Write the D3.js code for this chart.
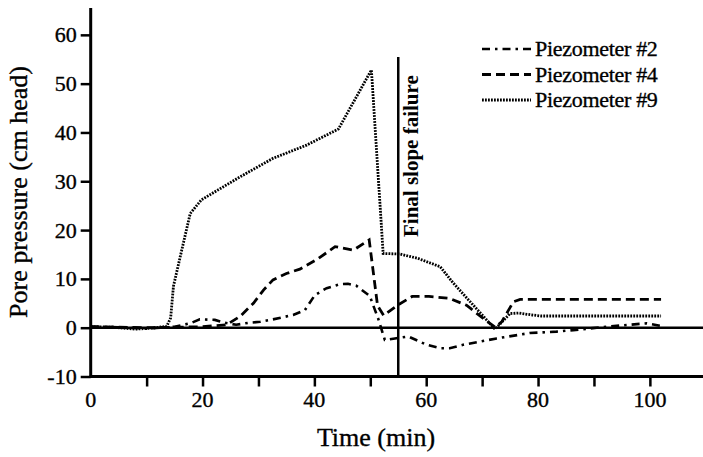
<!DOCTYPE html>
<html>
<head>
<meta charset="utf-8">
<script src="https://cdn.jsdelivr.net/npm/d3@7/dist/d3.min.js"></script>
<style>
  html, body { margin: 0; padding: 0; background: #fff; }
  svg { display: block; }
</style>
</head>
<body>
<svg id="chart" width="703" height="457"></svg>
<script>
// ---- data ----
const p9_t = [0, 4, 8, 11, 13.6, 14.3, 14.8, 16.0, 17.8, 19.8, 26.7, 32.6, 38.6, 44.3, 50.2, 52.3, 55.3, 58.5, 62.5, 64.8, 72.3, 75.0, 76.5, 79.0, 80.5, 102];
const p9_v = [0.2, 0.1, -0.3, -0.1, 0.3, 2.0, 8.5, 14.5, 23.4, 26.2, 30.9, 34.7, 37.4, 40.7, 52.8, 15.2, 15.1, 14.2, 12.5, 9.2, -0.3, 2.9, 3.0, 2.6, 2.4, 2.4];

const p4_t = [0, 5, 10, 15, 20, 24.3, 26.7, 29.1, 30.9, 32.6, 35, 37.4, 40.5, 43.7, 47, 49.8, 51.3, 52.4, 55, 57.5, 60.5, 64.2, 67.2, 70.2, 72.3, 73.5, 75.6, 76.8, 102];
const p4_v = [0.2, 0.1, 0, 0.1, 0.2, 0.6, 2.3, 5.0, 7.7, 9.8, 11.1, 12.0, 14.0, 16.6, 15.9, 18.0, 4.5, 2.5, 4.7, 6.4, 6.4, 6.0, 4.6, 1.9, 0.1, 1.2, 5.3, 5.8, 5.8];

const p2_t = [0, 5, 10, 15, 17.8, 19.5, 22.2, 24, 26, 28.2, 30.3, 32.6, 36.2, 38.3, 40.1, 42.2, 44.6, 46, 47.5, 49.9, 51.4, 52.6, 54.4, 56.8, 60.1, 62.5, 64.2, 66.6, 72.6, 78.5, 83.3, 86.3, 92.3, 99.4, 101.8];
const p2_v = [0.2, 0.1, -0.2, 0.2, 0.9, 1.7, 1.6, 1.0, 0.6, 1.0, 1.2, 1.7, 2.6, 3.6, 6.7, 8.1, 8.9, 9.0, 8.6, 6.5, 1.9, -2.5, -2.2, -1.8, -3.5, -4.2, -4.2, -3.5, -2.2, -1.1, -0.8, -0.5, 0.2, 0.9, 0.4];

const seriesNames = ["Piezometer #2", "Piezometer #4", "Piezometer #9"];
const xTicks = [10, 20, 30, 40, 50, 60, 70, 80, 90, 100];
const xTickLabels = [0, 20, 40, 60, 80, 100];
const yTicks = [-10, 0, 10, 20, 30, 40, 50, 60];
const failureTime = 55;
const failureLabel = "Final slope failure";

// ---- drawing ----
const FONT = "'Liberation Serif', 'Times New Roman', Times, serif";
const svg = d3.select("#chart");
svg.append("rect").attr("width", 703).attr("height", 457).attr("fill", "#fff");

const x = d3.scaleLinear().domain([0, 109.5]).range([90.7, 703]);
const y = d3.scaleLinear().domain([-10, 65.5]).range([376.5, 8]);

const series = [
  { name: seriesNames[0], t: p2_t, v: p2_v, dash: "8,5,2.5,5", w: 2.6 },
  { name: seriesNames[1], t: p4_t, v: p4_v, dash: "9,5", w: 2.8 },
  { name: seriesNames[2], t: p9_t, v: p9_v, dash: "1.8,1.2", w: 2.8 }
];

function txt(sel) {
  return sel.attr("font-family", FONT).attr("fill", "#000")
    .attr("stroke", "#000").attr("stroke-width", 0.35);
}

// zero line
svg.append("line")
  .attr("x1", x(0)).attr("x2", 703)
  .attr("y1", y(0)).attr("y2", y(0))
  .attr("stroke", "#000").attr("stroke-width", 2.5);

// failure line
svg.append("line")
  .attr("x1", x(failureTime)).attr("x2", x(failureTime))
  .attr("y1", 57).attr("y2", y(-10))
  .attr("stroke", "#000").attr("stroke-width", 2.5);

txt(svg.append("text"))
  .attr("transform", `translate(${x(failureTime) + 20},237) rotate(-90)`)
  .attr("font-size", 21).attr("font-weight", "bold").attr("stroke-width", 0)
  .text(failureLabel);

// series lines
const line = d3.line().x(d => x(d[0])).y(d => y(d[1]));
series.forEach(s => {
  const pts = s.t.map((t, i) => [t, s.v[i]]);
  svg.append("path")
    .attr("d", line(pts))
    .attr("fill", "none")
    .attr("stroke", "#000")
    .attr("stroke-width", s.w)
    .attr("stroke-dasharray", s.dash);
});

// x axis
const xAxisG = svg.append("g").attr("transform", `translate(0,${y(-10)})`);
xAxisG.call(d3.axisBottom(x).tickValues(xTicks).tickSize(10).tickFormat(""));
xAxisG.select(".domain").remove();
xAxisG.selectAll(".tick line").attr("stroke-width", 2.5);
xAxisG.append("line").attr("x1", x(0) - 1).attr("x2", 703).attr("stroke", "#000").attr("stroke-width", 3);
txt(xAxisG.selectAll(".lbl").data(xTickLabels).enter().append("text"))
  .attr("x", d => x(d)).attr("y", 30)
  .attr("text-anchor", "middle").attr("font-size", 22)
  .text(d => d);

// y axis
const yAxisG = svg.append("g").attr("transform", `translate(${x(0)},0)`);
yAxisG.call(d3.axisLeft(y).tickValues(yTicks).tickSize(10).tickFormat(""));
yAxisG.select(".domain").remove();
yAxisG.selectAll(".tick line").attr("stroke-width", 2.5);
yAxisG.append("line").attr("y1", 8).attr("y2", y(-10) + 1.5).attr("stroke", "#000").attr("stroke-width", 3);
txt(yAxisG.selectAll(".lbl").data(yTicks).enter().append("text"))
  .attr("x", -14).attr("y", d => y(d) + 7.5)
  .attr("text-anchor", "end").attr("font-size", 22)
  .text(d => d);

// axis titles
txt(svg.append("text"))
  .attr("x", 376).attr("y", 446)
  .attr("text-anchor", "middle").attr("font-size", 26)
  .text("Time (min)");
txt(svg.append("text"))
  .attr("transform", "translate(27,192) rotate(-90)")
  .attr("text-anchor", "middle").attr("font-size", 26)
  .text("Pore pressure (cm head)");

// legend
const legY = [49, 74.5, 100];
series.forEach((s, i) => {
  svg.append("line")
    .attr("x1", 482).attr("x2", 531)
    .attr("y1", legY[i]).attr("y2", legY[i])
    .attr("stroke", "#000").attr("stroke-width", s.w)
    .attr("stroke-dasharray", s.dash);
  txt(svg.append("text"))
    .attr("x", 535).attr("y", legY[i] + 7)
    .attr("font-size", 22).attr("letter-spacing", -0.3)
    .text(s.name);
});
</script>
</body>
</html>
